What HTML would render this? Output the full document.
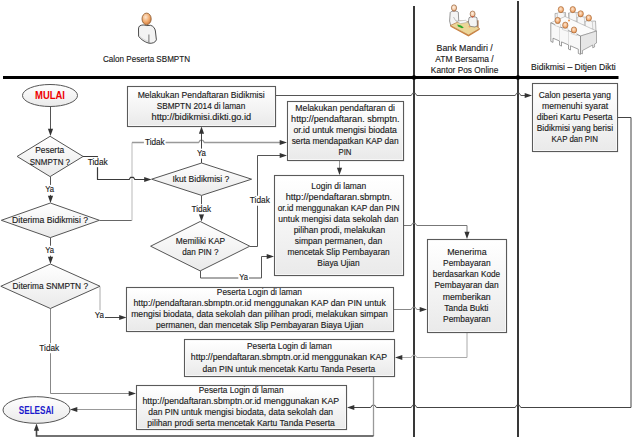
<!DOCTYPE html>
<html><head><meta charset="utf-8"><style>
html,body{margin:0;padding:0;background:#fff;width:632px;height:437px;overflow:hidden}
svg{display:block}
text{font-family:"Liberation Sans", sans-serif}
</style></head><body>
<svg width="632" height="437" viewBox="0 0 632 437">
<defs>
<linearGradient id="g" x1="0" y1="0" x2="0" y2="1">
<stop offset="0" stop-color="#ffffff"/><stop offset="1" stop-color="#eaeaea"/>
</linearGradient>
<filter id="sh" x="-5%" y="-5%" width="110%" height="115%">
<feDropShadow dx="0.6" dy="0.8" stdDeviation="0.5" flood-color="#000" flood-opacity="0.25"/>
</filter>
<radialGradient id="skin" cx="0.4" cy="0.35" r="0.7">
<stop offset="0" stop-color="#fde6cf"/><stop offset="0.6" stop-color="#f0a86a"/><stop offset="1" stop-color="#c8753a"/>
</radialGradient>
<radialGradient id="skin2" cx="0.45" cy="0.4" r="0.65">
<stop offset="0" stop-color="#fff3e6"/><stop offset="0.7" stop-color="#f2c29a"/><stop offset="1" stop-color="#d08a58"/>
</radialGradient>
<radialGradient id="skin3" cx="0.45" cy="0.4" r="0.65">
<stop offset="0" stop-color="#fde8d4"/><stop offset="0.6" stop-color="#f2b07a"/><stop offset="1" stop-color="#d9823f"/>
</radialGradient>
</defs>
<path d="M3,77.5 L618.5,77.5" fill="none" stroke="#000" stroke-width="3"/>
<path d="M414,6 L414,437" fill="none" stroke="#383838" stroke-width="2"/>
<path d="M518,1 L518,437" fill="none" stroke="#383838" stroke-width="2"/>
<circle cx="414" cy="77.5" r="2.3" fill="#000"/><circle cx="518" cy="77.5" r="2.3" fill="#000"/>
<path d="M50.5,106 L50.5,129" fill="none" stroke="#555" stroke-width="1"/>
<polygon points="50.5,136 47.9,128.7 53.1,128.7" fill="#333"/>
<path d="M50.5,176.5 L50.5,196" fill="none" stroke="#555" stroke-width="1"/>
<polygon points="50.5,203 47.9,195.7 53.1,195.7" fill="#333"/>
<path d="M50.5,237.5 L50.5,257" fill="none" stroke="#555" stroke-width="1"/>
<polygon points="50.5,264 47.9,256.7 53.1,256.7" fill="#333"/>
<path d="M50.5,308.5 L50.5,393.5 L129,393.5" fill="none" stroke="#888" stroke-width="1"/>
<polygon points="136,393.5 128.7,390.9 128.7,396.1" fill="#333"/>
<path d="M99.5,220.5 L132,220.5" fill="none" stroke="#666" stroke-width="1"/>
<path d="M132,220.5 L132,142.5" fill="none" stroke="#d4d4d4" stroke-width="1.6"/>
<path d="M132,142.5  L198.7,142.5 L200.1,140.3 L202.9,140.3 L204.3,142.5 L280,142.5" fill="none" stroke="#999" stroke-width="1.3" stroke-linejoin="round"/>
<polygon points="287,142.5 279.7,139.9 279.7,145.1" fill="#333"/>
<path d="M83,156.5 L97.5,156.5 L97.5,179.5  L129.2,179.5 L130.6,177.3 L133.4,177.3 L134.8,179.5 L145,179.5" fill="none" stroke="#3a3a3a" stroke-width="1.2" stroke-linejoin="round"/>
<polygon points="151.5,179.5 144.2,176.9 144.2,182.1" fill="#333"/>
<path d="M201.5,163 L201.5,133" fill="none" stroke="#444" stroke-width="1"/>
<polygon points="201.5,126.5 198.9,133.8 204.1,133.8" fill="#333"/>
<path d="M201.5,195.5 L201.5,214" fill="none" stroke="#555" stroke-width="1"/>
<polygon points="201.5,221.5 198.9,214.2 204.1,214.2" fill="#333"/>
<path d="M250,246.5 L257.5,246.5 L257.5,155.5 L280,155.5" fill="none" stroke="#555" stroke-width="1"/>
<polygon points="287,155.5 279.7,152.9 279.7,158.1" fill="#333"/>
<path d="M200.5,271 L200.5,278 L261.5,278 L261.5,256.5 L267,256.5" fill="none" stroke="#555" stroke-width="1"/>
<polygon points="274,256.5 266.7,253.9 266.7,259.1" fill="#333"/>
<path d="M276,95.5 L411.2,95.5 L412.6,93.3 L415.4,93.3 L416.8,95.5 L515.2,95.5 L516.6,93.3 L519.4,93.3 L520.8,95.5 L525,95.5" fill="none" stroke="#555" stroke-width="1" stroke-linejoin="round"/>
<polygon points="532,95.5 524.7,92.9 524.7,98.1" fill="#333"/>
<path d="M339.5,161 L339.5,168" fill="none" stroke="#999" stroke-width="1"/>
<polygon points="339.5,175 336.9,167.7 342.1,167.7" fill="#333"/>
<path d="M404,225.5 L411.2,225.5 L412.6,223.3 L415.4,223.3 L416.8,225.5 L467,225.5 L467,232" fill="none" stroke="#777" stroke-width="1" stroke-linejoin="round"/>
<polygon points="467,239 464.4,231.7 469.6,231.7" fill="#333"/>
<path d="M100,286.5 L100,317.5" fill="none" stroke="#aaa" stroke-width="1"/>
<path d="M100,317.5 L120,317.5" fill="none" stroke="#444" stroke-width="1"/>
<polygon points="126.5,317.5 119.2,314.9 119.2,320.1" fill="#333"/>
<path d="M394,309.5 L411.2,309.5 L412.6,307.3 L415.4,307.3 L416.8,309.5 L420,309.5" fill="none" stroke="#888" stroke-width="1" stroke-linejoin="round"/>
<polygon points="427,309.5 419.7,306.9 419.7,312.1" fill="#333"/>
<path d="M467,332.5 L467,357.5  L416.8,357.5 L415.4,355.3 L412.6,355.3 L411.2,357.5 L402,357.5" fill="none" stroke="#aaa" stroke-width="1" stroke-linejoin="round"/>
<polygon points="395,357.5 402.3,354.9 402.3,360.1" fill="#333"/>
<path d="M618,117.5 L631,117.5 L631,407.5  L520.8,407.5 L519.4,405.3 L516.6,405.3 L515.2,407.5 L416.8,407.5 L415.4,405.3 L412.6,405.3 L411.2,407.5 L376.3,407.5 L374.9,405.3 L372.1,405.3 L370.7,407.5 L354,407.5" fill="none" stroke="#444" stroke-width="1" stroke-linejoin="round"/>
<polygon points="347,407.5 354.3,404.9 354.3,410.1" fill="#333"/>
<path d="M373.5,377 L373.5,436" fill="none" stroke="#999" stroke-width="1.3"/>
<path d="M373.5,436 L36.5,436 L36.5,430" fill="none" stroke="#444" stroke-width="1.6"/>
<polygon points="36.5,423.5 33.9,430.8 39.1,430.8" fill="#333"/>
<path d="M136,409.5 L77,409.5" fill="none" stroke="#999" stroke-width="1"/>
<polygon points="70,409.5 77.3,406.9 77.3,412.1" fill="#333"/>
<ellipse cx="50" cy="95.5" rx="27.5" ry="11" fill="url(#g)" stroke="#555"/>
<text x="50.0" y="99.0" text-anchor="middle" font-size="10" font-weight="bold" fill="#e00" stroke="#e00" stroke-width="0" textLength="30.0" lengthAdjust="spacingAndGlyphs">MULAI</text>
<ellipse cx="36.5" cy="410" rx="33.5" ry="13.3" fill="url(#g)" stroke="#555"/>
<text x="36.2" y="413.5" text-anchor="middle" font-size="10" font-weight="bold" fill="#1a1acc" stroke="#1a1acc" stroke-width="0" textLength="34.8" lengthAdjust="spacingAndGlyphs">SELESAI</text>
<polygon points="50.099999999999994,136.3 83.1,156.45 50.099999999999994,176.6 17.1,156.45" fill="url(#g)" stroke="#555" stroke-width="1"/>
<text x="49.7" y="153.2" text-anchor="middle" font-size="9" font-weight="normal" fill="#1a1a1a" stroke="#1a1a1a" stroke-width="0.14" textLength="29.0" lengthAdjust="spacingAndGlyphs">Peserta</text>
<text x="49.9" y="164.7" text-anchor="middle" font-size="9" font-weight="normal" fill="#1a1a1a" stroke="#1a1a1a" stroke-width="0.14" textLength="40.3" lengthAdjust="spacingAndGlyphs">SNMPTN ?</text>
<polygon points="50.35,203 99.4,220.3 50.35,237.6 1.3,220.3" fill="url(#g)" stroke="#555" stroke-width="1"/>
<text x="50.1" y="222.6" text-anchor="middle" font-size="9" font-weight="normal" fill="#1a1a1a" stroke="#1a1a1a" stroke-width="0.14" textLength="76.0" lengthAdjust="spacingAndGlyphs">Diterima Bidikmisi ?</text>
<polygon points="50.4,264 100,286.25 50.4,308.5 0.8,286.25" fill="url(#g)" stroke="#555" stroke-width="1"/>
<text x="50.3" y="289.1" text-anchor="middle" font-size="9" font-weight="normal" fill="#1a1a1a" stroke="#1a1a1a" stroke-width="0.14" textLength="75.5" lengthAdjust="spacingAndGlyphs">Diterima SNMPTN ?</text>
<polygon points="201.6,163 251.6,179.2 201.6,195.4 151.6,179.2" fill="url(#g)" stroke="#555" stroke-width="1"/>
<text x="200.9" y="181.6" text-anchor="middle" font-size="9" font-weight="normal" fill="#1a1a1a" stroke="#1a1a1a" stroke-width="0.14" textLength="57.0" lengthAdjust="spacingAndGlyphs">Ikut Bidikmisi ?</text>
<polygon points="200.2,221.5 249.8,246.2 200.2,270.9 150.6,246.2" fill="url(#g)" stroke="#555" stroke-width="1"/>
<text x="200.4" y="243.6" text-anchor="middle" font-size="9" font-weight="normal" fill="#1a1a1a" stroke="#1a1a1a" stroke-width="0.14" textLength="49.3" lengthAdjust="spacingAndGlyphs">Memiliki KAP</text>
<text x="200.4" y="254.6" text-anchor="middle" font-size="9" font-weight="normal" fill="#1a1a1a" stroke="#1a1a1a" stroke-width="0.14" textLength="36.1" lengthAdjust="spacingAndGlyphs">dan PIN ?</text>
<rect x="128.5" y="87.5" width="148.0" height="40.0" fill="#000" opacity="0.06"/><rect x="127.5" y="86.5" width="148.0" height="40.0" fill="#fff" stroke="#5a5a5a" stroke-width="1.1"/><rect x="129.0" y="88.0" width="145.0" height="37.0" fill="url(#g)"/>
<text x="201.2" y="98.3" text-anchor="middle" font-size="9" font-weight="normal" fill="#1a1a1a" stroke="#1a1a1a" stroke-width="0.14" textLength="127.1" lengthAdjust="spacingAndGlyphs">Melakukan Pendaftaran Bidikmisi</text>
<text x="201.0" y="109.2" text-anchor="middle" font-size="9" font-weight="normal" fill="#1a1a1a" stroke="#1a1a1a" stroke-width="0.14" textLength="88.6" lengthAdjust="spacingAndGlyphs">SBMPTN 2014 di laman</text>
<text x="201.3" y="120.2" text-anchor="middle" font-size="9" font-weight="normal" fill="#1a1a1a" stroke="#1a1a1a" stroke-width="0.14" textLength="99.5" lengthAdjust="spacingAndGlyphs">http://bidikmisi.dikti.go.id</text>
<rect x="288.5" y="102.5" width="116.0" height="59.0" fill="#000" opacity="0.06"/><rect x="287.5" y="101.5" width="116.0" height="59.0" fill="#fff" stroke="#5a5a5a" stroke-width="1.1"/><rect x="289.0" y="103.0" width="113.0" height="56.0" fill="url(#g)"/>
<text x="345.2" y="111.2" text-anchor="middle" font-size="9" font-weight="normal" fill="#1a1a1a" stroke="#1a1a1a" stroke-width="0.14" textLength="99.7" lengthAdjust="spacingAndGlyphs">Melakukan pendaftaran di</text>
<text x="345.3" y="122.2" text-anchor="middle" font-size="9" font-weight="normal" fill="#1a1a1a" stroke="#1a1a1a" stroke-width="0.14" textLength="108.4" lengthAdjust="spacingAndGlyphs">http://pendaftaran. sbmptn.</text>
<text x="345.2" y="133.1" text-anchor="middle" font-size="9" font-weight="normal" fill="#1a1a1a" stroke="#1a1a1a" stroke-width="0.14" textLength="103.5" lengthAdjust="spacingAndGlyphs">or.id untuk mengisi biodata</text>
<text x="345.1" y="144.1" text-anchor="middle" font-size="9" font-weight="normal" fill="#1a1a1a" stroke="#1a1a1a" stroke-width="0.14" textLength="106.9" lengthAdjust="spacingAndGlyphs">serta mendapatkan KAP dan</text>
<text x="345.0" y="155.0" text-anchor="middle" font-size="9" font-weight="normal" fill="#1a1a1a" stroke="#1a1a1a" stroke-width="0.14" textLength="13.0" lengthAdjust="spacingAndGlyphs">PIN</text>
<rect x="275.5" y="176.5" width="129.0" height="100.0" fill="#000" opacity="0.06"/><rect x="274.5" y="175.5" width="129.0" height="100.0" fill="#fff" stroke="#5a5a5a" stroke-width="1.1"/><rect x="276.0" y="177.0" width="126.0" height="97.0" fill="url(#g)"/>
<text x="338.8" y="188.7" text-anchor="middle" font-size="9" font-weight="normal" fill="#1a1a1a" stroke="#1a1a1a" stroke-width="0.14" textLength="54.9" lengthAdjust="spacingAndGlyphs">Login di laman</text>
<text x="338.9" y="199.7" text-anchor="middle" font-size="9" font-weight="normal" fill="#1a1a1a" stroke="#1a1a1a" stroke-width="0.14" textLength="106.3" lengthAdjust="spacingAndGlyphs">http://pendaftaran.sbmptn.</text>
<text x="338.6" y="210.8" text-anchor="middle" font-size="9" font-weight="normal" fill="#1a1a1a" stroke="#1a1a1a" stroke-width="0.14" textLength="121.9" lengthAdjust="spacingAndGlyphs">or.id menggunakan KAP dan PIN</text>
<text x="338.4" y="221.8" text-anchor="middle" font-size="9" font-weight="normal" fill="#1a1a1a" stroke="#1a1a1a" stroke-width="0.14" textLength="120.1" lengthAdjust="spacingAndGlyphs">untuk mengisi data sekolah dan</text>
<text x="339.4" y="232.9" text-anchor="middle" font-size="9" font-weight="normal" fill="#1a1a1a" stroke="#1a1a1a" stroke-width="0.14" textLength="91.5" lengthAdjust="spacingAndGlyphs">pilihan prodi, melakukan</text>
<text x="338.5" y="243.9" text-anchor="middle" font-size="9" font-weight="normal" fill="#1a1a1a" stroke="#1a1a1a" stroke-width="0.14" textLength="87.3" lengthAdjust="spacingAndGlyphs">simpan permanen, dan</text>
<text x="338.6" y="254.9" text-anchor="middle" font-size="9" font-weight="normal" fill="#1a1a1a" stroke="#1a1a1a" stroke-width="0.14" textLength="102.3" lengthAdjust="spacingAndGlyphs">mencetak Slip Pembayaran</text>
<text x="338.5" y="266.0" text-anchor="middle" font-size="9" font-weight="normal" fill="#1a1a1a" stroke="#1a1a1a" stroke-width="0.14" textLength="42.3" lengthAdjust="spacingAndGlyphs">Biaya Ujian</text>
<rect x="533.5" y="84.5" width="85.0" height="68.0" fill="#000" opacity="0.06"/><rect x="532.5" y="83.5" width="85.0" height="68.0" fill="#fff" stroke="#5a5a5a" stroke-width="1.1"/><rect x="534.0" y="85.0" width="82.0" height="65.0" fill="url(#g)"/>
<text x="574.8" y="98.0" text-anchor="middle" font-size="9" font-weight="normal" fill="#1a1a1a" stroke="#1a1a1a" stroke-width="0.14" textLength="72.1" lengthAdjust="spacingAndGlyphs">Calon peserta yang</text>
<text x="575.1" y="109.0" text-anchor="middle" font-size="9" font-weight="normal" fill="#1a1a1a" stroke="#1a1a1a" stroke-width="0.14" textLength="66.2" lengthAdjust="spacingAndGlyphs">memenuhi syarat</text>
<text x="574.6" y="120.0" text-anchor="middle" font-size="9" font-weight="normal" fill="#1a1a1a" stroke="#1a1a1a" stroke-width="0.14" textLength="75.8" lengthAdjust="spacingAndGlyphs">diberi Kartu Peserta</text>
<text x="574.9" y="131.0" text-anchor="middle" font-size="9" font-weight="normal" fill="#1a1a1a" stroke="#1a1a1a" stroke-width="0.14" textLength="76.3" lengthAdjust="spacingAndGlyphs">Bidikmisi yang berisi</text>
<text x="574.8" y="142.0" text-anchor="middle" font-size="9" font-weight="normal" fill="#1a1a1a" stroke="#1a1a1a" stroke-width="0.14" textLength="46.4" lengthAdjust="spacingAndGlyphs">KAP dan PIN</text>
<rect x="428.5" y="240.5" width="79.0" height="93.0" fill="#000" opacity="0.06"/><rect x="427.5" y="239.5" width="79.0" height="93.0" fill="#fff" stroke="#5a5a5a" stroke-width="1.1"/><rect x="429.0" y="241.0" width="76.0" height="90.0" fill="url(#g)"/>
<text x="466.9" y="254.8" text-anchor="middle" font-size="9" font-weight="normal" fill="#1a1a1a" stroke="#1a1a1a" stroke-width="0.14" textLength="39.4" lengthAdjust="spacingAndGlyphs">Menerima</text>
<text x="466.9" y="266.0" text-anchor="middle" font-size="9" font-weight="normal" fill="#1a1a1a" stroke="#1a1a1a" stroke-width="0.14" textLength="47.6" lengthAdjust="spacingAndGlyphs">Pembayaran</text>
<text x="466.5" y="277.2" text-anchor="middle" font-size="9" font-weight="normal" fill="#1a1a1a" stroke="#1a1a1a" stroke-width="0.14" textLength="67.3" lengthAdjust="spacingAndGlyphs">berdasarkan Kode</text>
<text x="466.6" y="288.4" text-anchor="middle" font-size="9" font-weight="normal" fill="#1a1a1a" stroke="#1a1a1a" stroke-width="0.14" textLength="64.2" lengthAdjust="spacingAndGlyphs">Pembayaran dan</text>
<text x="466.7" y="299.6" text-anchor="middle" font-size="9" font-weight="normal" fill="#1a1a1a" stroke="#1a1a1a" stroke-width="0.14" textLength="48.0" lengthAdjust="spacingAndGlyphs">memberikan</text>
<text x="466.4" y="310.8" text-anchor="middle" font-size="9" font-weight="normal" fill="#1a1a1a" stroke="#1a1a1a" stroke-width="0.14" textLength="44.2" lengthAdjust="spacingAndGlyphs">Tanda Bukti</text>
<text x="466.9" y="322.0" text-anchor="middle" font-size="9" font-weight="normal" fill="#1a1a1a" stroke="#1a1a1a" stroke-width="0.14" textLength="47.6" lengthAdjust="spacingAndGlyphs">Pembayaran</text>
<rect x="127.5" y="288.5" width="267.0" height="44.0" fill="#000" opacity="0.06"/><rect x="126.5" y="287.5" width="267.0" height="44.0" fill="#fff" stroke="#5a5a5a" stroke-width="1.1"/><rect x="128.0" y="289.0" width="264.0" height="41.0" fill="url(#g)"/>
<text x="259.4" y="295.0" text-anchor="middle" font-size="9" font-weight="normal" fill="#1a1a1a" stroke="#1a1a1a" stroke-width="0.14" textLength="85.1" lengthAdjust="spacingAndGlyphs">Peserta Login di laman</text>
<text x="259.6" y="306.1" text-anchor="middle" font-size="9" font-weight="normal" fill="#1a1a1a" stroke="#1a1a1a" stroke-width="0.14" textLength="252.3" lengthAdjust="spacingAndGlyphs">http://pendaftaran.sbmptn.or.id menggunakan KAP dan PIN untuk</text>
<text x="259.5" y="317.1" text-anchor="middle" font-size="9" font-weight="normal" fill="#1a1a1a" stroke="#1a1a1a" stroke-width="0.14" textLength="256.7" lengthAdjust="spacingAndGlyphs">mengisi biodata, data sekolah dan pilihan prodi,  melakukan simpan</text>
<text x="259.8" y="328.2" text-anchor="middle" font-size="9" font-weight="normal" fill="#1a1a1a" stroke="#1a1a1a" stroke-width="0.14" textLength="207.5" lengthAdjust="spacingAndGlyphs">permanen, dan mencetak Slip Pembayaran Biaya Ujian</text>
<rect x="185.5" y="340.5" width="210.0" height="37.0" fill="#000" opacity="0.06"/><rect x="184.5" y="339.5" width="210.0" height="37.0" fill="#fff" stroke="#5a5a5a" stroke-width="1.1"/><rect x="186.0" y="341.0" width="207.0" height="34.0" fill="url(#g)"/>
<text x="289.4" y="349.3" text-anchor="middle" font-size="9" font-weight="normal" fill="#1a1a1a" stroke="#1a1a1a" stroke-width="0.14" textLength="84.8" lengthAdjust="spacingAndGlyphs">Peserta Login di laman</text>
<text x="289.0" y="360.4" text-anchor="middle" font-size="9" font-weight="normal" fill="#1a1a1a" stroke="#1a1a1a" stroke-width="0.14" textLength="196.3" lengthAdjust="spacingAndGlyphs">http://pendaftaran.sbmptn.or.id menggunakan KAP</text>
<text x="288.9" y="371.6" text-anchor="middle" font-size="9" font-weight="normal" fill="#1a1a1a" stroke="#1a1a1a" stroke-width="0.14" textLength="172.7" lengthAdjust="spacingAndGlyphs">dan PIN untuk mencetak Kartu Tanda Peserta</text>
<rect x="137.5" y="386.5" width="210.0" height="44.0" fill="#000" opacity="0.06"/><rect x="136.5" y="385.5" width="210.0" height="44.0" fill="#fff" stroke="#5a5a5a" stroke-width="1.1"/><rect x="138.0" y="387.0" width="207.0" height="41.0" fill="url(#g)"/>
<text x="241.2" y="393.3" text-anchor="middle" font-size="9" font-weight="normal" fill="#1a1a1a" stroke="#1a1a1a" stroke-width="0.14" textLength="84.7" lengthAdjust="spacingAndGlyphs">Peserta Login di laman</text>
<text x="240.8" y="404.3" text-anchor="middle" font-size="9" font-weight="normal" fill="#1a1a1a" stroke="#1a1a1a" stroke-width="0.14" textLength="196.7" lengthAdjust="spacingAndGlyphs">http://pendaftaran.sbmptn.or.id menggunakan KAP</text>
<text x="240.7" y="415.4" text-anchor="middle" font-size="9" font-weight="normal" fill="#1a1a1a" stroke="#1a1a1a" stroke-width="0.14" textLength="184.8" lengthAdjust="spacingAndGlyphs">dan PIN untuk mengisi biodata, data sekolah dan</text>
<text x="241.1" y="426.4" text-anchor="middle" font-size="9" font-weight="normal" fill="#1a1a1a" stroke="#1a1a1a" stroke-width="0.14" textLength="187.5" lengthAdjust="spacingAndGlyphs">pilihan prodi serta mencetak Kartu Tanda Peserta</text>
<rect x="86.6" y="157.2" width="22.1" height="10" fill="#fff"/><text x="97.7" y="164.7" text-anchor="middle" font-size="9" font-weight="normal" fill="#1a1a1a" stroke="#1a1a1a" stroke-width="0.14" textLength="20.1" lengthAdjust="spacingAndGlyphs">Tidak</text>
<rect x="44.3" y="184.9" width="10.8" height="10" fill="#fff"/><text x="49.7" y="192.4" text-anchor="middle" font-size="9" font-weight="normal" fill="#1a1a1a" stroke="#1a1a1a" stroke-width="0.14" textLength="8.8" lengthAdjust="spacingAndGlyphs">Ya</text>
<rect x="44.3" y="245.7" width="10.8" height="10" fill="#fff"/><text x="49.7" y="253.2" text-anchor="middle" font-size="9" font-weight="normal" fill="#1a1a1a" stroke="#1a1a1a" stroke-width="0.14" textLength="8.8" lengthAdjust="spacingAndGlyphs">Ya</text>
<rect x="38.4" y="343.2" width="21.9" height="10" fill="#fff"/><text x="49.3" y="350.7" text-anchor="middle" font-size="9" font-weight="normal" fill="#1a1a1a" stroke="#1a1a1a" stroke-width="0.14" textLength="19.9" lengthAdjust="spacingAndGlyphs">Tidak</text>
<rect x="93.8" y="310.3" width="11.2" height="10" fill="#fff"/><text x="99.4" y="317.8" text-anchor="middle" font-size="9" font-weight="normal" fill="#1a1a1a" stroke="#1a1a1a" stroke-width="0.14" textLength="9.2" lengthAdjust="spacingAndGlyphs">Ya</text>
<rect x="143.9" y="137.5" width="21.7" height="10" fill="#fff"/><text x="154.8" y="145.0" text-anchor="middle" font-size="9" font-weight="normal" fill="#1a1a1a" stroke="#1a1a1a" stroke-width="0.14" textLength="19.7" lengthAdjust="spacingAndGlyphs">Tidak</text>
<rect x="195.9" y="148.6" width="11.0" height="10" fill="#fff"/><text x="201.4" y="156.1" text-anchor="middle" font-size="9" font-weight="normal" fill="#1a1a1a" stroke="#1a1a1a" stroke-width="0.14" textLength="9.0" lengthAdjust="spacingAndGlyphs">Ya</text>
<rect x="190.5" y="204.2" width="21.6" height="10" fill="#fff"/><text x="201.3" y="211.7" text-anchor="middle" font-size="9" font-weight="normal" fill="#1a1a1a" stroke="#1a1a1a" stroke-width="0.14" textLength="19.6" lengthAdjust="spacingAndGlyphs">Tidak</text>
<rect x="248.8" y="195.7" width="22.0" height="10" fill="#fff"/><text x="259.8" y="203.2" text-anchor="middle" font-size="9" font-weight="normal" fill="#1a1a1a" stroke="#1a1a1a" stroke-width="0.14" textLength="20.0" lengthAdjust="spacingAndGlyphs">Tidak</text>
<rect x="238.3" y="272.7" width="10.7" height="10" fill="#fff"/><text x="243.7" y="280.2" text-anchor="middle" font-size="9" font-weight="normal" fill="#1a1a1a" stroke="#1a1a1a" stroke-width="0.14" textLength="8.7" lengthAdjust="spacingAndGlyphs">Ya</text>
<text x="146.5" y="61.6" text-anchor="middle" font-size="9" font-weight="normal" fill="#1a1a1a" stroke="#1a1a1a" stroke-width="0.14" textLength="87.0" lengthAdjust="spacingAndGlyphs">Calon Peserta SBMPTN</text>
<text x="464.7" y="50.7" text-anchor="middle" font-size="9" font-weight="normal" fill="#1a1a1a" stroke="#1a1a1a" stroke-width="0.14" textLength="56.2" lengthAdjust="spacingAndGlyphs">Bank Mandiri /</text>
<text x="464.5" y="61.7" text-anchor="middle" font-size="9" font-weight="normal" fill="#1a1a1a" stroke="#1a1a1a" stroke-width="0.14" textLength="58.3" lengthAdjust="spacingAndGlyphs">ATM Bersama /</text>
<text x="464.6" y="72.8" text-anchor="middle" font-size="9" font-weight="normal" fill="#1a1a1a" stroke="#1a1a1a" stroke-width="0.14" textLength="67.5" lengthAdjust="spacingAndGlyphs">Kantor Pos Online</text>
<text x="573.4" y="70.1" text-anchor="middle" font-size="9" font-weight="normal" fill="#1a1a1a" stroke="#1a1a1a" stroke-width="0.14" textLength="84.7" lengthAdjust="spacingAndGlyphs">Bidikmisi – Ditjen Dikti</text>
<g id="person">
<path d="M139.6,26 C141.5,24.6 144.5,24.8 146.8,25.6 L150.5,25.3 C153.2,26 155,28.2 155.4,31 L156.4,39.8 C155.6,42.6 151.8,43.7 148.8,43.2 C144.6,42 140.6,39.2 138.6,36.2 L138.5,29 C138.5,27.6 138.9,26.6 139.6,26 Z" fill="#f3f3f3" stroke="#3a3a3a" stroke-width="0.9"/>
<path d="M139.5,36 C142,38.5 145,40.5 148.8,41.5 L148.8,43" fill="none" stroke="#cfcfcf" stroke-width="0.8"/>
<path d="M148.9,34.5 L148.9,43" fill="none" stroke="#555" stroke-width="0.8"/>
<ellipse cx="146.6" cy="18.9" rx="4.6" ry="5.8" fill="url(#skin)" stroke="#8a5a30" stroke-width="0.8"/>
</g>
<g id="bank">
<!-- person 1 body -->
<path d="M450.2,12.5 C450.8,10.8 457.6,10.6 458.3,12.3 L458.8,22 L457.5,25.5 L450.8,25.8 L449.6,21 Z" fill="#f4f4f4" stroke="#555" stroke-width="0.6"/>
<path d="M453.5,17 L455.5,20.5 L459,22" fill="none" stroke="#999" stroke-width="0.6"/>
<path d="M452.5,10.3 L455.5,10.3 L454,11.6 Z" fill="#e03020"/>
<ellipse cx="454" cy="7.9" rx="2.6" ry="3.1" fill="url(#skin2)" stroke="#8a5a35" stroke-width="0.6"/>
<!-- chair person 2 -->
<rect x="477.2" y="20.3" width="1.3" height="8.3" fill="#b06a35"/>
<!-- table -->
<path d="M450.3,25.5 L460,21 L470.5,21.8 L479.6,28.6 L468.5,35 Z" fill="#ecd699" stroke="#b87840" stroke-width="0.7"/>
<path d="M450.3,25.5 L450.6,26.8 L468.5,36.4 L479.6,29.8 L479.6,28.6 L468.5,35 Z" fill="#c9803f"/>
<path d="M457.2,24.6 L461,25.6 L463.8,27.4 L462,28.2 L458,26.6 Z" fill="#2aa82a"/>
<path d="M456.5,21.3 L465.5,20.3 L467.8,22.2 L460.5,23.6 Z" fill="#fafafa" stroke="#8a8a8a" stroke-width="0.4"/>
<!-- person 2 body -->
<path d="M469,17.8 C469.8,16.5 476.2,16.4 477,17.8 L477.4,25.5 L475,27 L470,26.3 L468.4,22 Z" fill="#f4f4f4" stroke="#555" stroke-width="0.6"/>
<circle cx="469.5" cy="26.6" r="0.9" fill="#f0a060"/>
<ellipse cx="472.6" cy="14" rx="2.5" ry="3" fill="url(#skin2)" stroke="#8a5a35" stroke-width="0.6"/>
<path d="M471.3,16.5 L473.9,16.5 L472.6,17.4 Z" fill="#e03020"/>
</g>
<g id="meeting">
<!-- back chairs -->
<path d="M555,13.5 L565.5,12.5 L566,28 L555.5,27 Z" fill="#f3f3f3" stroke="#8a8a8a" stroke-width="0.6"/>
<path d="M568.5,13 L578.5,12.5 L579,30 L569,29 Z" fill="#f3f3f3" stroke="#8a8a8a" stroke-width="0.6"/>
<path d="M576.5,17.5 L586.5,17 L587,33 L577,32 Z" fill="#f3f3f3" stroke="#8a8a8a" stroke-width="0.6"/>
<path d="M584.5,21.5 L595.5,21 L596,31 L585,27 Z" fill="#f3f3f3" stroke="#8a8a8a" stroke-width="0.6"/>
<!-- back row bodies -->
<path d="M557.3,13.5 C558,11.8 563.5,11.8 564.3,13.5 L564.8,21 L557.5,21 Z" fill="#f7f7f7" stroke="#aaa" stroke-width="0.5"/>
<path d="M569.3,13.5 C570,11.8 575.5,11.8 576.3,13.5 L576.8,21 L569.5,21 Z" fill="#f7f7f7" stroke="#aaa" stroke-width="0.5"/>
<path d="M577.3,17.8 C578,16 583.5,16 584.3,17.8 L584.8,25 L577.5,25 Z" fill="#f7f7f7" stroke="#aaa" stroke-width="0.5"/>
<path d="M585.3,22 C586,20.3 591.5,20.3 592.3,22 L592.8,29 L585.5,29 Z" fill="#f7f7f7" stroke="#aaa" stroke-width="0.5"/>
<ellipse cx="560.9" cy="9.6" rx="2.7" ry="3.1" fill="url(#skin3)" stroke="#9a5a28" stroke-width="0.55"/>
<ellipse cx="572.8" cy="9.6" rx="2.7" ry="3.1" fill="url(#skin3)" stroke="#9a5a28" stroke-width="0.55"/>
<ellipse cx="580.7" cy="13.8" rx="2.7" ry="3.1" fill="url(#skin3)" stroke="#9a5a28" stroke-width="0.55"/>
<ellipse cx="588.8" cy="18" rx="2.7" ry="3.1" fill="url(#skin3)" stroke="#9a5a28" stroke-width="0.55"/>
<!-- table top -->
<path d="M550.8,22.8 L565,16.5 L596.5,31 L580.5,36 Z" fill="#fbfbfb" stroke="#9a9a9a" stroke-width="0.5"/>
<circle cx="569" cy="20.5" r="1" fill="#e8944e"/>
<!-- right end face -->
<path d="M580.5,36 L596.5,31 L596.5,43 L594.6,44 L594.6,47 L592.7,47.8 L592.7,45 L582.5,50.5 L582.5,53.8 L580.5,53.3 Z" fill="#e6e6e6" stroke="#7a7a7a" stroke-width="0.6"/>
<!-- front face -->
<polygon points="550.8,22.8 580.5,36.0 580.5,54.4 578.3,53.4 578.3,49.2 570.5,45.8 570.5,50.0 568.5,49.1 568.5,44.9 561.5,41.9 561.5,46.1 559.5,45.2 559.5,41.0 553.0,38.2 553.0,42.4 550.8,41.4 550.8,37.2" fill="#f8f8f8" stroke="#6e6e6e" stroke-width="0.65"/>
<path d="M559.5,26.7 L559.5,41.0 M568.5,30.7 L568.5,44.9" stroke="#c4c4c4" stroke-width="0.5"/>
<!-- front row people -->
<path d="M554.8,24.5 C555.2,22.6 560.2,22.6 560.6,24.5 L560.6,27.5 L554.8,25.5 Z" fill="#f7f7f7" stroke="#aaa" stroke-width="0.4"/>
<path d="M562.4,29 C562.8,27.2 567.8,27.2 568.2,29 L568.2,31.5 L562.4,29.5 Z" fill="#f7f7f7" stroke="#aaa" stroke-width="0.4"/>
<path d="M571.1,33.5 C571.5,31.7 576.5,31.7 576.9,33.5 L576.9,35.5 L571.1,33.5 Z" fill="#f7f7f7" stroke="#aaa" stroke-width="0.4"/>
<ellipse cx="557.7" cy="20.4" rx="2.7" ry="3.1" fill="url(#skin3)" stroke="#9a5a28" stroke-width="0.55"/>
<ellipse cx="565.3" cy="25.2" rx="2.7" ry="3.1" fill="url(#skin3)" stroke="#9a5a28" stroke-width="0.55"/>
<ellipse cx="574" cy="30" rx="2.7" ry="3.1" fill="url(#skin3)" stroke="#9a5a28" stroke-width="0.55"/>
</g>

</svg>
</body></html>
